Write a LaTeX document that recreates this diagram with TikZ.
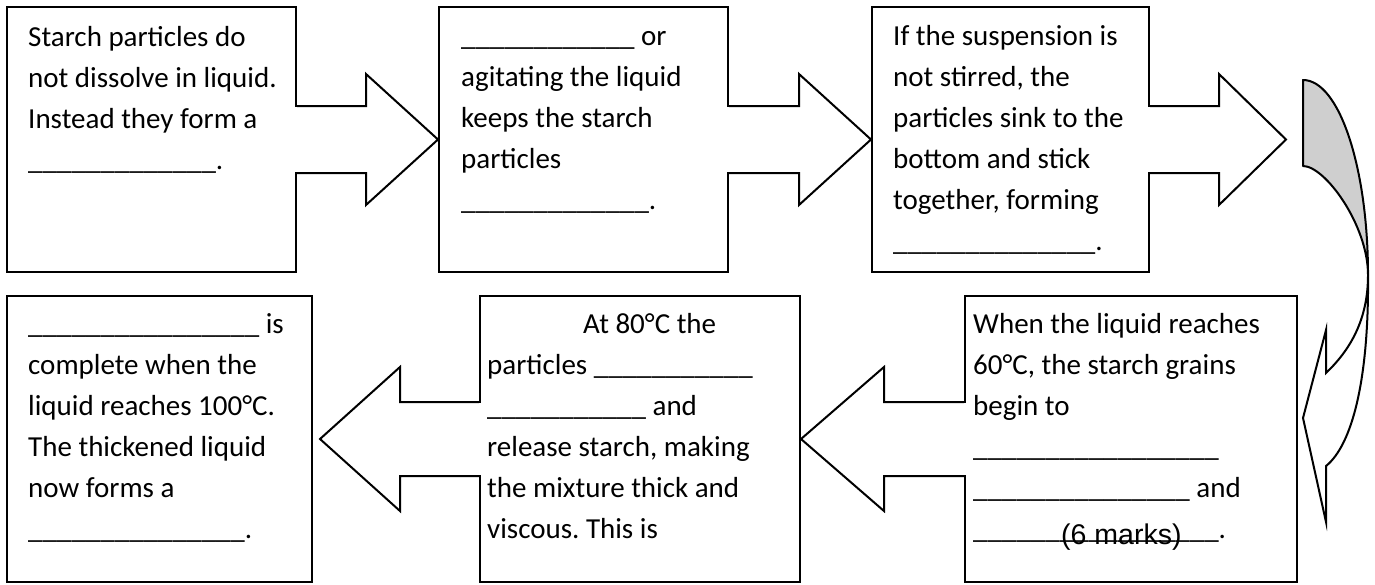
\documentclass[tikz,border=0pt]{standalone}
\usepackage{fontspec}
\setmainfont{Carlito}
\newfontfamily\arialfont{Liberation Sans}
\usetikzlibrary{calc}
\ExplSyntaxOn
\NewDocumentCommand\blanks{m}{\prg_replicate:nn{#1}{\textunderscore}}
\ExplSyntaxOff
\definecolor{backgray}{RGB}{207,207,207}
\frenchspacing
\begin{document}
\begin{tikzpicture}[x=1pt,y=-1pt,
  box/.style={draw, line width=2pt, inner sep=0pt, rectangle},
  arr/.style={draw, line width=2pt, line join=miter},
  gap/.style={fill=white},
  txt/.style={anchor=base west, inner sep=0pt, text width=340pt, align=flush left,
    font=\fontsize{29}{41}\selectfont},
  markstyle/.style={anchor=base west, inner sep=0pt, font=\arialfont\fontsize{28.5}{30}\selectfont}]
\useasboundingbox (0,0) rectangle (1375,584);

% boxes
\node[box, minimum width=289pt, minimum height=265pt] (b1) at (151.5,139.5) {};
\node[box, minimum width=289pt, minimum height=265pt] (b2) at (583.5,139.5) {};
\node[box, minimum width=277pt, minimum height=265pt] (b3) at (1010.5,139.5) {};
\node[box, minimum width=305pt, minimum height=286pt] (b4) at (159.5,439) {};
\node[box, minimum width=320pt, minimum height=286pt] (b5) at (640,439) {};
\node[box, minimum width=332pt, minimum height=286pt] (b6) at (1131,439) {};

% openings where the arrow shafts leave the boxes
\fill[gap] ($(b1.east)+(-3,-32.4)$) rectangle ($(b1.east)+(3,32.4)$);
\fill[gap] ($(b2.east)+(-3,-32.4)$) rectangle ($(b2.east)+(3,32.4)$);
\fill[gap] ($(b3.east)+(-3,-32.4)$) rectangle ($(b3.east)+(3,32.4)$);
\fill[gap] ($(b5.west)+(-3,-35.9)$) rectangle ($(b5.west)+(3,35.9)$);
\fill[gap] ($(b6.west)+(-3,-35.9)$) rectangle ($(b6.west)+(3,35.9)$);

% block arrows (top row, pointing right)
\draw[arr] ($(b1.east)+(0,-33.5)$) -| ($(b2.west)+(-72,-65.5)$) -- (b2.west)
  -- ($(b2.west)+(-72,65.5)$) |- ($(b1.east)+(0,33.5)$);
\draw[arr] ($(b2.east)+(0,-33.5)$) -| ($(b3.west)+(-72,-65.5)$) -- (b3.west)
  -- ($(b3.west)+(-72,65.5)$) |- ($(b2.east)+(0,33.5)$);
\coordinate (tip3) at (1286,139.5);
\draw[arr] ($(b3.east)+(0,-33.5)$) -| ($(tip3)+(-67,-65.5)$) -- (tip3)
  -- ($(tip3)+(-67,65.5)$) |- ($(b3.east)+(0,33.5)$);

% block arrows (bottom row, pointing left)
\coordinate (tip4) at (320,439);
\draw[arr] ($(b5.west)+(0,-37)$) -| ($(tip4)+(80,-72)$) -- (tip4)
  -- ($(tip4)+(80,72)$) |- ($(b5.west)+(0,37)$);
\draw[arr] ($(b6.west)+(0,-37)$) -| ($(b5.east)+(83,-72)$) -- (b5.east)
  -- ($(b5.east)+(83,72)$) |- ($(b6.west)+(0,37)$);

% texts
\node[txt] (t1) at (28,46.7) {Starch particles do\\not dissolve in liquid.\\Instead they form a\\\blanks{13}.};
\node[txt] (t2) at (461,45.5) {\blanks{12} or\\agitating the liquid\\keeps the starch\\particles\\\blanks{13}.};
\node[txt] (t3) at (893,45.5) {If the suspension is\\not stirred, the\\particles sink to the\\bottom and stick\\together, forming\\\blanks{14}.};
\node[txt] (t4) at (28,333) {\blanks{16} is\\complete when the\\liquid reaches 100°C.\\The thickened liquid\\now forms a\\\blanks{15}.};
\node[txt] (t5) at (487,333) {\hspace*{96pt}At 80°C the\\particles \blanks{11}\\\blanks{11} and\\release starch, making\\the mixture thick and\\viscous. This is};
\node[txt] (t6) at (973,333) {When the liquid reaches\\60°C, the starch grains\\begin to\\\blanks{17}\\\blanks{15} and\\\blanks{17}.};
\node[markstyle] (marks) at (1061,544) {(6 marks)};

% curved arrow
\coordinate (A) at (1303,80);
\coordinate (B) at (1303,166);
\coordinate (X) at (1368,275);
\coordinate (C) at (1326,373);
\coordinate (D) at (1326,330);
\coordinate (E) at (1303,418);
\coordinate (F) at (1326,522);
\coordinate (G) at (1326,466);
\draw[line width=2pt, fill=backgray, line join=round]
  (A) .. controls (1339,80) and (1368,167) .. (X)
  .. controls (1368,225) and (1325,166) .. (B) -- cycle;
\draw[line width=2pt, fill=white, line join=miter]
  (X) .. controls (1369,380) and (1352,445) .. (G) -- (F) -- (E) -- (D) -- (C)
  .. controls (1350,350) and (1368,320) .. (X);
\end{tikzpicture}
\end{document}
